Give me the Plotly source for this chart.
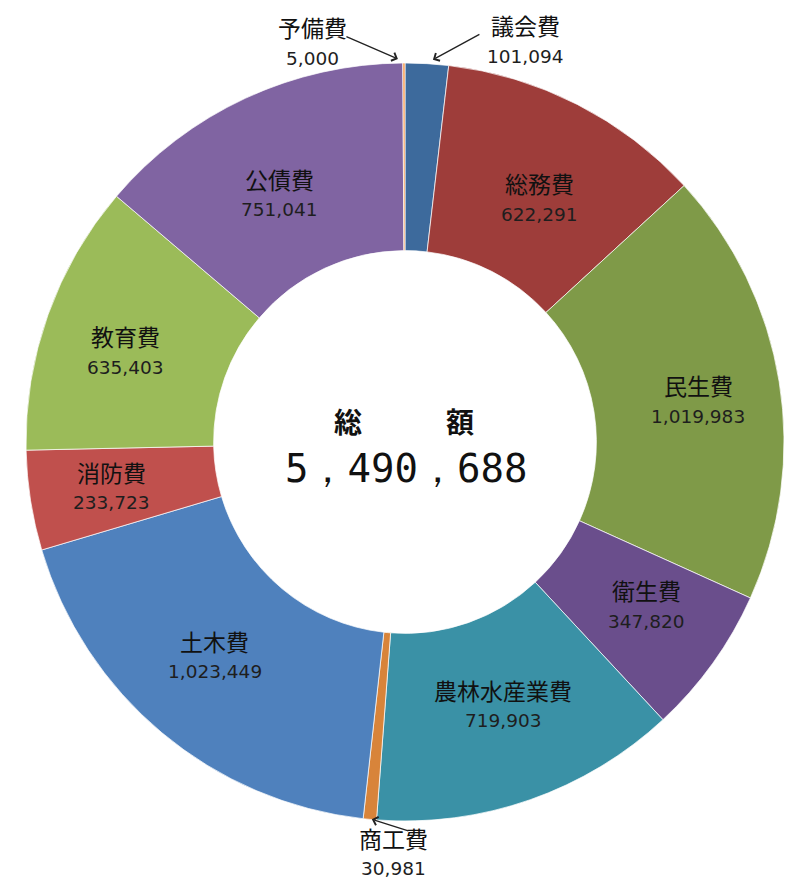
import math
import plotly.graph_objects as go

categories = ["議会費", "総務費", "民生費", "衛生費", "農林水産業費", "商工費",
              "土木費", "消防費", "教育費", "公債費", "予備費"]
values = [101094, 622291, 1019983, 347820, 719903, 30981,
          1023449, 233723, 635403, 751041, 5000]
colors = ["#3d6a9c", "#9e3d3a", "#7f9a48", "#6a4e8c", "#3a91a6", "#d8843a",
          "#4f81bd", "#c0504d", "#9bbb59", "#8064a2", "#f79646"]
outside_labels = ["議会費", "商工費", "予備費"]
total = sum(values)

def fmt(v):
    return f"{v:,}"

W, H = 795, 879
# visual centre / radius of the ring on screen
cx, cy, R = 403, 440, 379
# the page places the figure a few px right/down (body margin); compensate
dcx, dcy = cx - 6, cy - 6
BODY = 8

fig = go.Figure(go.Pie(
    labels=categories,
    values=values,
    sort=False,
    direction="clockwise",
    rotation=0,
    hole=0.505,
    marker=dict(colors=colors, line=dict(color="rgba(255,255,255,0.7)", width=1)),
    textinfo="none",
    hoverinfo="label+value",
    showlegend=False,
    domain=dict(x=[(dcx - R) / W, (dcx + R) / W],
                y=[(H - dcy - R) / H, (H - dcy + R) / H]),
))

def px(x, y):
    # screen pixel -> paper coords
    return (x - BODY) / W, 1 - (y - BODY) / H

def mid_angle(name):
    i = categories.index(name)
    start = sum(values[:i])
    return (start + values[i] / 2) / total * 2 * math.pi

LABEL_FONT = dict(family="Noto Sans CJK JP", size=23, color="#111111")
VALUE_FONT = dict(family="DejaVu Sans", size=18.5, color="#1e1e1e")

annos = []
# labels inside the ring: centred at the slice's mid-angle, mid-radius of the ring
LCX, LCY, RX_MID, RY_MID = 405, 444, 297, 276
for c, v in zip(categories, values):
    if c in outside_labels:
        continue
    a = mid_angle(c)
    bx = LCX + RX_MID * math.sin(a)
    by = LCY - RY_MID * math.cos(a)
    x, y = px(bx, by - 15)
    annos.append(dict(x=x, y=y, xref="paper", yref="paper", text=c, showarrow=False,
                      xanchor="center", yanchor="middle", font=LABEL_FONT))
    x, y = px(bx, by + 16)
    annos.append(dict(x=x, y=y, xref="paper", yref="paper", text=fmt(v), showarrow=False,
                      xanchor="center", yanchor="middle", font=VALUE_FONT))

# outside labels with arrows
lab = {"予備費": (312, 27, 312, 58), "議会費": (525, 25, 525, 56), "商工費": (393, 838, 393, 868)}
for c, v in zip(categories, values):
    if c in lab:
        lx, ly, vx, vy = lab[c]
        x, y = px(lx, ly)
        annos.append(dict(x=x, y=y, xref="paper", yref="paper", text=c, showarrow=False,
                          xanchor="center", yanchor="middle", font=LABEL_FONT))
        x, y = px(vx, vy)
        annos.append(dict(x=x, y=y, xref="paper", yref="paper", text=fmt(v), showarrow=False,
                          xanchor="center", yanchor="middle", font=VALUE_FONT))

# arrow: (offset of head from slice edge point), (tail vector from head)
arrow_spec = {"予備費": ((-4, -2), (-53, -23)),
              "議会費": ((8, -2), (48, -26)),
              "商工費": ((4, 2), (38, 12))}
for name, ((ox, oy), (vx, vy)) in arrow_spec.items():
    a = mid_angle(name)
    hx = cx + R * math.sin(a) + ox
    hy = cy - R * math.cos(a) + oy
    x, y = px(hx, hy)
    annos.append(dict(x=x, y=y, xref="paper", yref="paper", text="", showarrow=True,
                      ax=vx, ay=vy, arrowhead=4, arrowsize=1.3, arrowwidth=1.3,
                      arrowcolor="#222222", standoff=0))

x, y = px(cx + 1, 421)
annos.append(dict(x=x, y=y, xref="paper", yref="paper", text="<b>総　　　額</b>", showarrow=False,
                  xanchor="center", yanchor="middle",
                  font=dict(family="Noto Sans CJK JP", size=28, color="#111111")))
x, y = px(cx + 3, 468)
annos.append(dict(x=x, y=y, xref="paper", yref="paper",
                  text="{:,}".format(total).replace(",", "，"), showarrow=False,
                  xanchor="center", yanchor="middle",
                  font=dict(family="DejaVu Sans Mono", size=39, color="#111111")))

fig.update_layout(
    width=W, height=H,
    margin=dict(l=0, r=0, t=0, b=0),
    paper_bgcolor="white",
    plot_bgcolor="white",
    annotations=annos,
)

fig.write_html("out.html")
